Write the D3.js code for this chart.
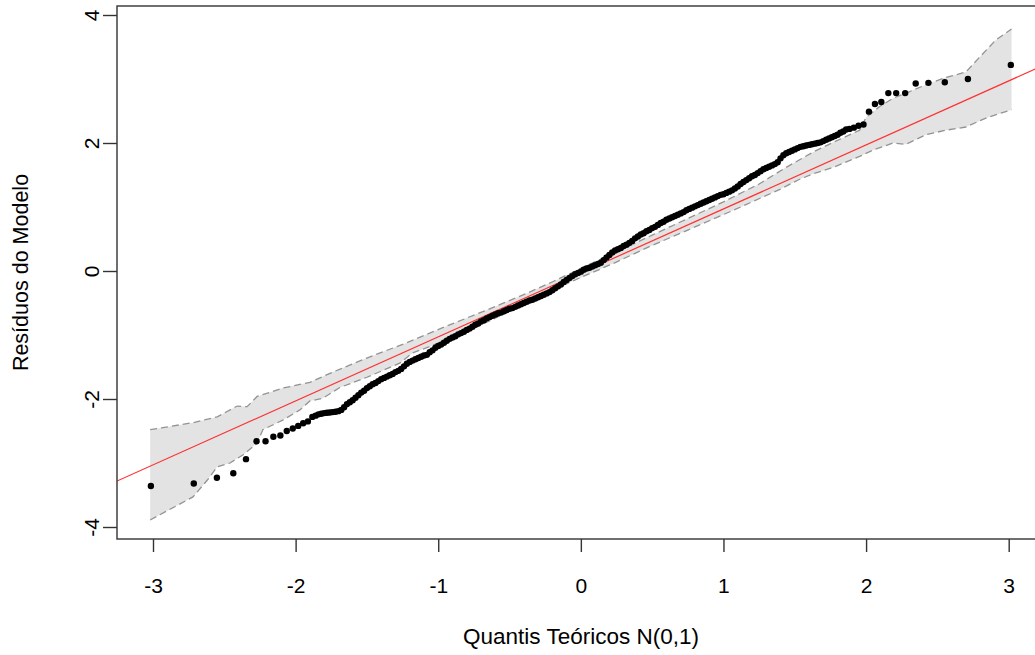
<!DOCTYPE html>
<html>
<head>
<meta charset="utf-8">
<script src="https://cdn.jsdelivr.net/npm/d3@7"></script>
<style>
  html, body { margin: 0; padding: 0; background: #fff; }
  svg { display: block; }
  text { font-family: "Liberation Sans", Arial, sans-serif; fill: #000; }
</style>
</head>
<body>
<svg id="chart" width="1035" height="655"></svg>
<script>
// ---- data ----
const xTicks = [-3, -2, -1, 0, 1, 2, 3];
const yTicks = [-4, -2, 0, 2, 4];
const xLabel = "Quantis Teóricos N(0,1)";
const yLabel = "Resíduos do Modelo";

// theoretical quantiles (x) and sorted model residuals (y)
const qx = [
  -3.015,-2.714,-2.552,-2.437,-2.348,-2.274,-2.211,-2.156,-2.107,-2.062,-2.020,-1.982,-1.947,-1.914,-1.883,
  -1.86,-1.84,-1.82,-1.80,-1.78,-1.76,-1.74,-1.72,-1.70,-1.68,
  -1.66,-1.64,-1.62,-1.60,-1.58,-1.56,-1.54,-1.52,-1.50,-1.48,
  -1.46,-1.44,-1.42,-1.40,-1.38,-1.36,-1.34,-1.32,-1.30,-1.28,
  -1.26,-1.24,-1.22,-1.20,-1.18,-1.16,-1.14,-1.12,-1.10,-1.08,
  -1.06,-1.04,-1.02,-1.00,-0.98,-0.96,-0.94,-0.92,-0.90,-0.88,
  -0.86,-0.84,-0.82,-0.80,-0.78,-0.76,-0.74,-0.72,-0.70,-0.68,
  -0.66,-0.64,-0.62,-0.60,-0.58,-0.56,-0.54,-0.52,-0.50,-0.48,
  -0.46,-0.44,-0.42,-0.40,-0.38,-0.36,-0.34,-0.32,-0.30,-0.28,
  -0.26,-0.24,-0.22,-0.20,-0.18,-0.16,-0.14,-0.12,-0.10,-0.08,
  -0.06,-0.04,-0.02,0.00,0.02,0.04,0.06,0.08,0.10,0.12,
  0.14,0.16,0.18,0.20,0.22,0.24,0.26,0.28,0.30,0.32,
  0.34,0.36,0.38,0.40,0.42,0.44,0.46,0.48,0.50,0.52,
  0.54,0.56,0.58,0.60,0.62,0.64,0.66,0.68,0.70,0.72,
  0.74,0.76,0.78,0.80,0.82,0.84,0.86,0.88,0.90,0.92,
  0.94,0.96,0.98,1.00,1.02,1.04,1.06,1.08,1.10,1.12,
  1.14,1.16,1.18,1.20,1.22,1.24,1.26,1.28,1.30,1.32,
  1.34,1.36,1.38,1.40,1.42,1.44,1.46,1.48,1.50,1.52,
  1.54,1.56,1.58,1.60,1.62,1.64,1.66,1.68,1.70,1.72,
  1.74,1.76,1.78,1.80,1.82,1.84,1.86,
  1.883,1.914,1.947,1.982,2.020,2.062,2.107,2.156,2.211,2.274,2.348,2.437,2.552,2.714,3.015
];
const residuals = [
  -3.36,-3.32,-3.23,-3.16,-2.94,-2.66,-2.66,-2.59,-2.57,-2.50,-2.46,-2.42,-2.38,-2.35,-2.28,
  -2.26,-2.24,-2.23,-2.22,-2.215,-2.21,-2.205,-2.20,-2.19,-2.17,
  -2.13,-2.08,-2.05,-2.02,-1.98,-1.94,-1.90,-1.87,-1.83,-1.80,
  -1.77,-1.75,-1.72,-1.69,-1.67,-1.65,-1.63,-1.61,-1.58,-1.56,
  -1.53,-1.49,-1.45,-1.42,-1.40,-1.38,-1.36,-1.34,-1.32,-1.31,
  -1.27,-1.24,-1.20,-1.17,-1.15,-1.12,-1.09,-1.06,-1.04,-1.02,
  -0.99,-0.97,-0.95,-0.92,-0.90,-0.87,-0.84,-0.82,-0.79,-0.77,
  -0.74,-0.72,-0.70,-0.68,-0.66,-0.65,-0.63,-0.61,-0.59,-0.58,
  -0.56,-0.54,-0.52,-0.50,-0.48,-0.46,-0.45,-0.43,-0.41,-0.39,
  -0.37,-0.35,-0.33,-0.30,-0.27,-0.24,-0.21,-0.17,-0.14,-0.11,
  -0.08,-0.05,-0.03,-0.01,0.02,0.04,0.05,0.07,0.09,0.11,
  0.13,0.17,0.21,0.25,0.29,0.32,0.34,0.36,0.39,0.41,
  0.44,0.47,0.51,0.54,0.57,0.59,0.62,0.64,0.67,0.69,
  0.72,0.75,0.77,0.80,0.82,0.84,0.86,0.88,0.90,0.92,
  0.95,0.97,0.99,1.01,1.03,1.05,1.07,1.09,1.11,1.13,
  1.15,1.17,1.19,1.20,1.22,1.24,1.26,1.29,1.32,1.36,
  1.39,1.42,1.45,1.48,1.50,1.53,1.56,1.59,1.61,1.63,
  1.65,1.67,1.70,1.76,1.81,1.84,1.86,1.88,1.90,1.92,
  1.94,1.95,1.96,1.97,1.98,1.99,2.00,2.01,2.03,2.05,
  2.07,2.09,2.11,2.13,2.16,2.18,2.21,
  2.22,2.24,2.27,2.29,2.49,2.61,2.64,2.78,2.78,2.78,2.93,2.94,2.95,3.00,3.22
];

// confidence envelope: upper and lower limits
const envUpperX = [-3.02,-2.72,-2.55,-2.41,-2.34,-2.27,-2.09,-1.90,-1.74,-1.50,-1.22,-0.94,-0.66,-0.38,-0.19,0.00,0.25,0.50,0.75,1.00,1.25,1.44,1.63,1.77,1.955,2.00,2.095,2.19,2.28,2.42,2.54,2.70,2.80,2.91,3.02];
const envUpperY = [-2.48,-2.37,-2.28,-2.11,-2.12,-1.96,-1.83,-1.74,-1.58,-1.36,-1.12,-0.86,-0.61,-0.35,-0.16,0.04,0.30,0.56,0.82,1.08,1.36,1.62,1.86,2.01,2.20,2.40,2.57,2.70,2.78,2.91,3.01,3.11,3.35,3.61,3.78];
const envLowerX = [-3.02,-2.72,-2.62,-2.55,-2.46,-2.37,-2.27,-2.23,-2.09,-1.97,-1.90,-1.81,-1.69,-1.50,-1.27,-1.18,-0.94,-0.66,-0.38,-0.19,0.00,0.23,0.48,0.75,1.07,1.40,1.53,1.63,1.77,1.955,2.05,2.19,2.28,2.42,2.56,2.70,2.84,3.02];
const envLowerY = [-3.89,-3.53,-3.27,-3.06,-3.00,-2.875,-2.69,-2.48,-2.33,-2.17,-2.03,-1.99,-1.82,-1.66,-1.44,-1.28,-1.08,-0.80,-0.50,-0.29,-0.10,0.12,0.38,0.64,0.95,1.28,1.43,1.52,1.62,1.79,1.89,2.00,1.98,2.13,2.20,2.25,2.39,2.52];

// reference line: intercept and slope
const refLine = { intercept: -0.03, slope: 1.0 };

// ---- drawing ----
const svg = d3.select("#chart");
const box = { left: 117, right: 1045, top: 6, bottom: 539 };
const FONT = "'Liberation Sans', Arial, sans-serif";
const fmt = d => String(d);   // plain hyphen-minus, as in the original

const x = d3.scaleLinear().domain([-3, 3]).range([153, 1008.7]);
const y = d3.scaleLinear().domain([-4, 4]).range([527, 15]);

svg.append("defs").append("clipPath").attr("id", "plotclip")
  .append("rect")
  .attr("x", box.left).attr("y", box.top)
  .attr("width", box.right - box.left).attr("height", box.bottom - box.top);

const plot = svg.append("g").attr("clip-path", "url(#plotclip)");

// envelope polygon
const upperPts = envUpperX.map((v, i) => [x(v), y(envUpperY[i])]);
const lowerPts = envLowerX.map((v, i) => [x(v), y(envLowerY[i])]);
const poly = upperPts.concat(lowerPts.slice().reverse());
plot.append("path")
  .attr("d", d3.line()(poly) + "Z")
  .attr("fill", "#e3e3e3")
  .attr("stroke", "none");

const lineGen = d3.line();
[upperPts, lowerPts].forEach(pts => {
  plot.append("path")
    .attr("d", lineGen(pts))
    .attr("fill", "none")
    .attr("stroke", "#939393")
    .attr("stroke-width", 1.3)
    .attr("stroke-dasharray", "7,4");
});

// reference line
const xl0 = x.invert(box.left), xl1 = x.invert(box.right);
plot.append("line")
  .attr("x1", x(xl0)).attr("y1", y(refLine.intercept + refLine.slope * xl0))
  .attr("x2", x(xl1)).attr("y2", y(refLine.intercept + refLine.slope * xl1))
  .attr("stroke", "#ff3030")
  .attr("stroke-width", 1.2);

// points
plot.append("g").selectAll("circle")
  .data(qx.map((v, i) => [v, residuals[i]]))
  .join("circle")
  .attr("cx", d => x(d[0]))
  .attr("cy", d => y(d[1]))
  .attr("r", 3.2)
  .attr("fill", "#000");

// box
svg.append("rect")
  .attr("x", box.left).attr("y", box.top)
  .attr("width", box.right - box.left).attr("height", box.bottom - box.top)
  .attr("fill", "none").attr("stroke", "#333").attr("stroke-width", 1.4);

// x axis
const xAxis = d3.axisBottom(x).tickValues(xTicks).tickSize(13).tickPadding(26).tickFormat(fmt);
const gx = svg.append("g").attr("transform", `translate(0,${box.bottom})`).call(xAxis);
gx.select(".domain").remove();
gx.selectAll(".tick line").attr("stroke", "#333").attr("stroke-width", 1.4);
gx.selectAll(".tick text").attr("font-size", 21).attr("font-family", FONT).attr("fill", "#000");

// y axis (labels rotated, parallel to axis)
const yAxis = d3.axisLeft(y).tickValues(yTicks).tickSize(14).tickFormat(fmt);
const gy = svg.append("g").attr("transform", `translate(${box.left},0)`).call(yAxis);
gy.select(".domain").remove();
gy.selectAll(".tick line").attr("stroke", "#333").attr("stroke-width", 1.4);
gy.selectAll(".tick text")
  .attr("font-size", 21).attr("font-family", FONT).attr("fill", "#000")
  .attr("x", null)
  .attr("text-anchor", "middle")
  .attr("transform", "translate(-25,0) rotate(-90)")
  .attr("dy", "0.35em");

// axis titles
svg.append("text")
  .attr("x", (box.left + box.right) / 2).attr("y", 636)
  .attr("dy", "0.35em")
  .attr("text-anchor", "middle").attr("font-size", 22.5)
  .text(xLabel);

svg.append("text")
  .attr("transform", `translate(20,${(box.top + box.bottom) / 2}) rotate(-90)`)
  .attr("dy", "0.35em")
  .attr("text-anchor", "middle").attr("font-size", 21.5)
  .text(yLabel);
</script>
</body>
</html>
